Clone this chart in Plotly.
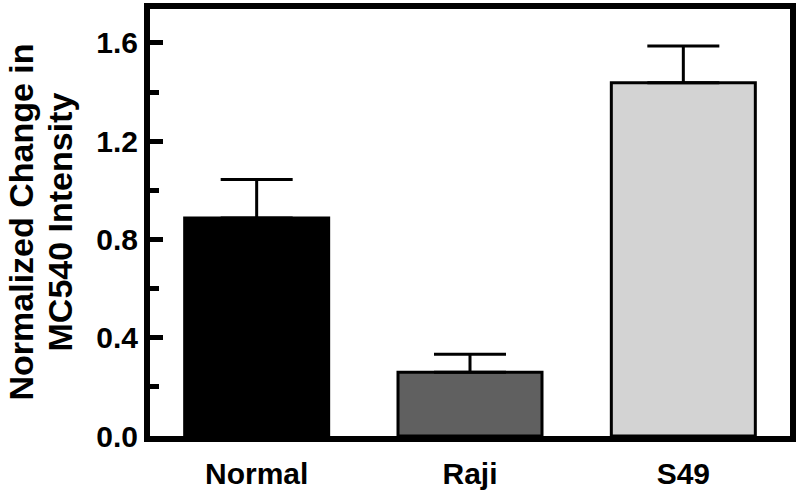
import plotly.graph_objects as go

categories = ["Normal", "Raji", "S49"]
values = [0.887, 0.259, 1.438]
errors = [0.157, 0.074, 0.149]
bar_colors = ["#000000", "#606060", "#d3d3d3"]
y_tickvals = [0.0, 0.4, 0.8, 1.2, 1.6]
y_ticktext = ["0.0", "0.4", "0.8", "1.2", "1.6"]

FONT = "Arial, Liberation Sans, sans-serif"

fig = go.Figure()
fig.add_trace(go.Bar(
    x=categories, y=values, width=0.675,
    marker=dict(color=bar_colors, line=dict(color="black", width=3)),
    error_y=dict(type="data", array=errors, symmetric=False, arrayminus=[0, 0, 0],
                 color="black", thickness=3, width=36),
))

fig.update_layout(
    template="none",
    width=800, height=496,
    margin=dict(l=150, r=10, t=9, b=60, autoexpand=False),
    plot_bgcolor="white", paper_bgcolor="white",
    showlegend=False,
    font=dict(family=FONT, color="black"),
    xaxis=dict(
        range=[-0.5, 2.5], showline=True, linecolor="black", linewidth=6, mirror=True,
        ticks="", ticklabelstandoff=6,
        tickfont=dict(family=FONT, size=30, color="black", weight="bold"),
        showgrid=False, zeroline=False, automargin=False,
    ),
    yaxis=dict(
        range=[0, 1.738], showline=True, linecolor="black", linewidth=6, mirror=True,
        ticks="inside", ticklen=13, tickwidth=5, tickcolor="black",
        tickvals=y_tickvals, ticktext=y_ticktext,
        minor=dict(tickvals=[0.2, 0.6, 1.0, 1.4], ticks="inside", ticklen=9, tickwidth=5, tickcolor="black"),
        tickfont=dict(family=FONT, size=30, color="black", weight="bold"),
        showgrid=False, zeroline=False, automargin=False,
    ),
    annotations=[
        dict(text="<b>Normalized Change in</b>", xref="paper", yref="paper", x=0, y=0.5,
             xshift=-130, textangle=-90, showarrow=False, xanchor="center", yanchor="middle",
             font=dict(family=FONT, size=34, color="black")),
        dict(text="<b>MC540 Intensity</b>", xref="paper", yref="paper", x=0, y=0.5,
             xshift=-91, textangle=-90, showarrow=False, xanchor="center", yanchor="middle",
             font=dict(family=FONT, size=34, color="black")),
    ],
)

fig.write_html("out.html", config={"displayModeBar": False},
               post_script="document.body.style.margin='0px';")
